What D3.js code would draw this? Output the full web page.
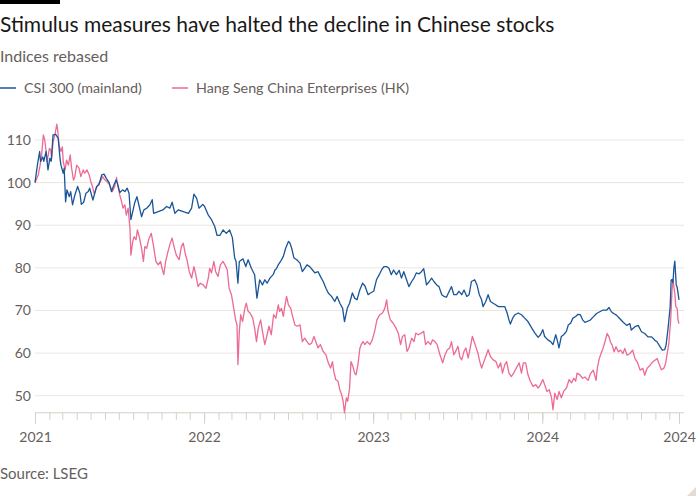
<!DOCTYPE html>
<html>
<head>
<meta charset="utf-8">
<script src="https://cdn.jsdelivr.net/npm/d3@7"></script>
<style>
  html, body { margin: 0; padding: 0; background: #ffffff; }
  svg { display: block; }
  text { font-family: Lato, "Open Sans", "Noto Sans", sans-serif; }
</style>
</head>
<body>
<svg id="chart" width="700" height="500"></svg>
<script>
// ---------------- DATA ----------------
const seriesNames = ["CSI 300 (mainland)", "Hang Seng China Enterprises (HK)"];

const csiDates = [
"2021-01-01","2021-01-06","2021-01-11","2021-01-13","2021-01-18","2021-01-20","2021-01-25","2021-01-29","2021-02-02","2021-02-05",
"2021-02-09","2021-02-15","2021-02-20","2021-02-24","2021-02-26","2021-03-03","2021-03-05","2021-03-08","2021-03-11","2021-03-16",
"2021-03-19","2021-03-23","2021-03-28","2021-04-03","2021-04-08","2021-04-11","2021-04-16","2021-04-21","2021-04-26","2021-04-29",
"2021-05-03","2021-05-06","2021-05-10","2021-05-14","2021-05-19","2021-05-25","2021-05-30","2021-06-04","2021-06-10","2021-06-15",
"2021-06-19","2021-06-25","2021-06-28","2021-07-03","2021-07-09","2021-07-14","2021-07-19","2021-07-23","2021-07-27","2021-07-31",
"2021-08-04","2021-08-09","2021-08-14","2021-08-19","2021-08-24","2021-08-30","2021-09-06","2021-09-11","2021-09-14","2021-09-24",
"2021-10-04","2021-10-12","2021-10-19","2021-10-24","2021-10-30","2021-11-06","2021-11-17","2021-11-28","2021-12-05","2021-12-10",
"2021-12-16","2021-12-21","2021-12-29","2022-01-02","2022-01-10","2022-01-17","2022-01-24","2022-01-29","2022-02-04","2022-02-11",
"2022-02-18","2022-02-25","2022-03-03","2022-03-08","2022-03-11","2022-03-15","2022-03-18","2022-03-26","2022-04-01","2022-04-06",
"2022-04-13","2022-04-20","2022-04-25","2022-05-01","2022-05-07","2022-05-12","2022-05-17","2022-05-23","2022-05-30","2022-06-03",
"2022-06-06","2022-06-10","2022-06-15","2022-06-21","2022-06-26","2022-07-02","2022-07-05","2022-07-09","2022-07-14","2022-07-20",
"2022-07-27","2022-08-01","2022-08-06","2022-08-11","2022-08-17","2022-08-23","2022-08-28","2022-09-04","2022-09-09","2022-09-15",
"2022-09-21","2022-09-26","2022-10-03","2022-10-10","2022-10-15","2022-10-21","2022-10-27","2022-10-31","2022-11-06","2022-11-11",
"2022-11-17","2022-11-22","2022-11-27","2022-12-03","2022-12-09","2022-12-14","2022-12-21","2022-12-26","2023-01-02","2023-01-08",
"2023-01-14","2023-01-19","2023-01-24","2023-01-30","2023-02-04","2023-02-09","2023-02-14","2023-02-20","2023-02-26","2023-03-03",
"2023-03-08","2023-03-14","2023-03-19","2023-03-25","2023-03-30","2023-04-04","2023-04-10","2023-04-15","2023-04-20","2023-04-26",
"2023-05-02","2023-05-07","2023-05-12","2023-05-18","2023-05-23","2023-05-29","2023-06-03","2023-06-08","2023-06-14","2023-06-19",
"2023-06-24","2023-06-30","2023-07-05","2023-07-11","2023-07-16","2023-07-22","2023-07-27","2023-08-01","2023-08-08","2023-08-13",
"2023-08-18","2023-08-23","2023-08-26","2023-09-01","2023-09-06","2023-09-11","2023-09-17","2023-09-23","2023-09-28","2023-10-05",
"2023-10-12","2023-10-17","2023-10-21","2023-10-24","2023-10-29","2023-11-03","2023-11-10","2023-11-17","2023-11-24","2023-12-01",
"2023-12-09","2023-12-16","2023-12-23","2023-12-28","2024-01-02","2024-01-06","2024-01-13","2024-01-19","2024-01-24","2024-01-30",
"2024-02-02","2024-02-06","2024-02-11","2024-02-16","2024-02-22","2024-02-26","2024-03-02","2024-03-07","2024-03-13","2024-03-18",
"2024-03-23","2024-03-28","2024-04-02","2024-04-13","2024-04-20","2024-04-27","2024-05-04","2024-05-11","2024-05-19","2024-05-24",
"2024-05-29","2024-06-03","2024-06-09","2024-06-16","2024-06-23","2024-07-01","2024-07-08","2024-07-11","2024-07-19","2024-07-26",
"2024-08-02","2024-08-09","2024-08-16","2024-08-24","2024-08-31","2024-09-05","2024-09-11","2024-09-16","2024-09-21","2024-09-24",
"2024-09-28","2024-10-03","2024-10-05","2024-10-07","2024-10-09","2024-10-11","2024-10-13","2024-10-16","2024-10-18","2024-10-20",
"2024-10-22"];
const csiValues = [
100,104,107.3,105,106,105,107.3,103,105.7,105,
111.2,111.3,110.4,105.7,104.1,102.2,103.4,95.5,98.3,96.7,
97.9,94.8,97.1,99.1,97.5,94.9,95.4,97.5,97.9,98.7,
97.1,95.9,97.5,99.1,99.5,101.8,102,101,100,97.9,
99.1,100.6,99.8,97.7,98.3,97.9,98.7,97.5,91.3,93.2,
95.2,96.7,94.4,92,93.6,94,94.8,96,92.8,93.2,
93.6,94.4,94,95.4,92.8,93.6,93.2,92.8,94,97.3,
96.3,94,94.9,94.4,92.4,91.3,89.7,87.6,87.6,88.9,
88.1,88.9,87.1,82.3,81.5,76.4,81.5,82.1,80.3,81.9,
79.9,78.4,72.9,77.2,76,77.2,76.4,77.6,78.4,79.5,
79.8,80.7,81.5,82.7,84.6,86.2,85.9,84.6,82.3,81.9,
81.1,79.1,79.9,80.7,80.3,79.5,78.8,79.1,78,76.8,
75.2,74.1,73.3,72.1,73.3,71.7,70.5,67.4,70.5,71.7,
74.1,72.9,72.5,74.8,76.4,75.8,73.7,74.1,74.5,77.2,
78.4,79.5,80.3,80.3,79.9,78.4,79.5,78.4,79.4,77.6,
79.1,77.2,75.6,76.8,77.6,78.8,78.6,79.1,79.8,76,
76.8,77.6,76.8,76,75.6,73.7,73.3,73.1,74.5,75.6,
73.7,73.7,74.5,73.7,74.8,73.3,73.7,76.8,77.2,76,
73.7,72.5,70.9,72.1,73.7,72.1,71.7,71.3,70.9,70.9,
70.9,69.4,67.8,66.8,68.2,69,69.4,69,68.2,67.4,
65.9,64.7,63.7,64.3,65.5,63.9,63.1,62.7,62,64.3,
63.1,61.2,63.9,64.3,65.1,66.6,67,68.2,68.6,69.1,
69,67.8,67.2,67.7,68.5,69.3,69.7,70.1,70.1,70.7,
69.7,69.3,68.9,68.1,67.3,66.5,66.9,65.4,66.2,66.5,
65,64.6,63.8,63.8,63,62.6,61.5,60.7,60.8,61.8,
65.4,70.9,77.1,77.3,76.5,80,81.6,76,75.5,74,
72.5];

const hsDates = [
"2021-01-01","2021-01-05","2021-01-08","2021-01-12","2021-01-15","2021-01-19","2021-01-22","2021-01-25","2021-01-27","2021-02-01",
"2021-02-04","2021-02-06","2021-02-09","2021-02-13","2021-02-17","2021-02-19","2021-02-22","2021-02-26","2021-03-01","2021-03-03",
"2021-03-07","2021-03-10","2021-03-14","2021-03-18","2021-03-21","2021-03-25","2021-03-28","2021-04-01","2021-04-06","2021-04-10",
"2021-04-15","2021-04-18","2021-04-23","2021-04-28","2021-05-01","2021-05-05","2021-05-09","2021-05-12","2021-05-17","2021-05-22",
"2021-05-27","2021-06-01","2021-06-06","2021-06-11","2021-06-17","2021-06-22","2021-06-26","2021-06-29","2021-07-03","2021-07-07",
"2021-07-10","2021-07-14","2021-07-17","2021-07-21","2021-07-25","2021-07-27","2021-07-31","2021-08-03","2021-08-07","2021-08-10",
"2021-08-14","2021-08-19","2021-08-23","2021-08-26","2021-08-30","2021-09-04","2021-09-09","2021-09-14","2021-09-19","2021-09-24",
"2021-09-29","2021-10-03","2021-10-06","2021-10-10","2021-10-15","2021-10-20","2021-10-24","2021-10-28","2021-11-02","2021-11-08",
"2021-11-13","2021-11-17","2021-11-22","2021-11-25","2021-11-30","2021-12-05","2021-12-10","2021-12-14","2021-12-19","2021-12-24",
"2021-12-30","2022-01-05","2022-01-10","2022-01-13","2022-01-17","2022-01-22","2022-01-26","2022-01-31","2022-02-05","2022-02-11",
"2022-02-17","2022-02-20","2022-02-24","2022-03-01","2022-03-06","2022-03-10","2022-03-13","2022-03-15","2022-03-18","2022-03-21",
"2022-03-25","2022-03-30","2022-04-02","2022-04-06","2022-04-10","2022-04-16","2022-04-20","2022-04-24","2022-04-28","2022-05-03",
"2022-05-07","2022-05-12","2022-05-17","2022-05-21","2022-05-26","2022-05-31","2022-06-05","2022-06-10","2022-06-13","2022-06-17",
"2022-06-21","2022-06-24","2022-06-28","2022-07-02","2022-07-07","2022-07-11","2022-07-16","2022-07-21","2022-07-27","2022-08-01",
"2022-08-06","2022-08-11","2022-08-16","2022-08-21","2022-08-26","2022-08-30","2022-09-04","2022-09-09","2022-09-15","2022-09-21",
"2022-09-26","2022-10-01","2022-10-05","2022-10-08","2022-10-12","2022-10-17","2022-10-21","2022-10-25","2022-10-28","2022-10-31",
"2022-11-04","2022-11-07","2022-11-11","2022-11-14","2022-11-18","2022-11-22","2022-11-25","2022-11-29","2022-12-03","2022-12-06",
"2022-12-10","2022-12-14","2022-12-19","2022-12-25","2022-12-30","2023-01-04","2023-01-09","2023-01-15","2023-01-21","2023-01-26",
"2023-01-30","2023-02-02","2023-02-07","2023-02-13","2023-02-19","2023-02-24","2023-03-01","2023-03-05","2023-03-10","2023-03-15",
"2023-03-19","2023-03-25","2023-03-30","2023-04-03","2023-04-08","2023-04-15","2023-04-20","2023-04-24","2023-04-29","2023-05-05",
"2023-05-09","2023-05-14","2023-05-19","2023-05-25","2023-05-31","2023-06-05","2023-06-10","2023-06-15","2023-06-19","2023-06-24",
"2023-06-28","2023-07-03","2023-07-07","2023-07-11","2023-07-16","2023-07-20","2023-07-25","2023-07-30","2023-08-03","2023-08-08",
"2023-08-15","2023-08-19","2023-08-23","2023-08-28","2023-09-01","2023-09-06","2023-09-11","2023-09-17","2023-09-23","2023-09-28",
"2023-10-03","2023-10-07","2023-10-12","2023-10-16","2023-10-21","2023-10-26","2023-10-31","2023-11-06","2023-11-12","2023-11-17",
"2023-11-21","2023-11-26","2023-12-01","2023-12-06","2023-12-12","2023-12-18","2023-12-23","2023-12-28","2024-01-02","2024-01-06",
"2024-01-11","2024-01-16","2024-01-21","2024-01-24","2024-01-28","2024-02-02","2024-02-06","2024-02-11","2024-02-16","2024-02-22",
"2024-02-28","2024-03-04","2024-03-09","2024-03-13","2024-03-16","2024-03-22","2024-03-28","2024-04-02","2024-04-09","2024-04-14",
"2024-04-20","2024-04-26","2024-04-29","2024-05-03","2024-05-08","2024-05-11","2024-05-15","2024-05-20","2024-05-24","2024-05-27",
"2024-05-31","2024-06-04","2024-06-08","2024-06-13","2024-06-18","2024-06-23","2024-06-27","2024-07-02","2024-07-08","2024-07-14",
"2024-07-19","2024-07-24","2024-07-30","2024-08-05","2024-08-09","2024-08-14","2024-08-20","2024-08-26","2024-08-31","2024-09-05",
"2024-09-09","2024-09-14","2024-09-19","2024-09-23","2024-09-26","2024-09-30","2024-10-04","2024-10-07","2024-10-09","2024-10-13",
"2024-10-15","2024-10-18","2024-10-20","2024-10-22"];
const hsValues = [
100,101,101.8,104.1,106.1,111.2,110,107.3,104.9,108,
107.7,105.7,109.6,111.2,113.7,112.3,108.8,107.3,108.4,104.9,
103,105.3,104.1,106.5,103.4,100.6,101.4,104.1,103.4,101.4,
103,102.2,103,101.8,100.4,99.1,97.3,98.4,99.5,100.2,
101.4,100.6,100.2,99.5,97.9,99.1,101.2,99.1,97.1,95.5,
94,94.8,92.4,94,89.3,83,86.2,87.3,86.6,88.9,
87.3,84.6,81.5,85,84.6,86.9,88.1,85,81.5,80.7,
81.5,79.5,78.4,81.5,83.8,85.8,87,85,83,81.9,
85,85.8,83,81.9,79.1,77.6,80.3,78.4,75.6,76.4,
76,75.2,77.6,79.9,78.8,81.5,79.1,78,80.7,81.5,
80.3,79.5,75.2,73.7,70.5,67.8,66.6,57.3,65.1,69,
67.4,70.5,71.7,69.8,69.4,68.2,65.9,62.7,65.9,67.8,
65.1,62,64.3,66.3,64.3,69,68.2,71.3,69.8,70.5,
68.6,70.9,73.3,71.3,70.5,68.6,66.6,66.3,66.6,62.7,
63.5,62.7,62,62.3,63.9,62.7,61.2,62,60.4,59.6,
57.7,56.5,58,55.7,53.8,53.4,51.4,50.2,48.7,46,
49.5,48.7,51.8,58,56.9,55.3,54.9,57.3,61,62,
62.7,62,62.7,62,63.1,65.1,67.8,69,69.4,70.5,
72.5,69.8,67.8,67,65.9,64.7,62,63.9,64.3,60.4,
61.2,63.5,62.7,64.7,64.3,64.7,65.1,62,62.7,62,
63.1,62.7,62,59.6,57.7,59.6,60.8,61.2,62.7,59.6,
60.4,61.6,59.1,58.4,60.4,61.2,58.8,61.6,63.9,62.3,
60,58,56.5,58,59.2,60.8,59.2,58.4,58,56.5,
57.7,55.3,57.3,58,55.3,54.5,55.3,56.5,57.7,55.3,
57.7,57.7,54.9,53.4,52.2,52.6,51.8,52.6,53.8,52.6,
51,51.4,49.5,46.7,50.6,49.1,51,49.5,51,51.8,
53.8,53,54.1,53.4,55.3,54.9,54.1,54.4,53.6,55.2,
56,53.6,56.7,58.7,60.3,61.1,62.6,64.6,63.8,62.6,
61.8,60.3,61.5,60.3,60.7,59.9,61.1,59.5,59.9,60.7,
58.7,57.9,56,56.4,54.8,56.4,57.1,57.9,58.3,58.7,
57.5,56.1,56.4,57.5,59.5,62.2,67.7,74.8,77.1,74,
70.9,70.5,67.7,66.9];

const yTickValues = [50, 60, 70, 80, 90, 100, 110];
const xTickLabels = ["2021", "2022", "2023", "2024", "2024"];
const xTickDates = ["2021-01-01", "2022-01-01", "2023-01-01", "2024-01-01", "2024-10-22"];
const xDomain = ["2021-01-01", "2024-10-22"];
const yDomain = [46, 115];

// ---------------- DRAW ----------------
const parse = d3.timeParse("%Y-%m-%d");
const svg = d3.select("#chart");

const COL = { blue: "#1a5598", pink: "#ec6a94", text: "#66605c", title: "#1a1817", grid: "#ece5dd", tick: "#d6cfc7" };

const x = d3.scaleTime().domain(xDomain.map(parse)).range([35, 679]);
const y = d3.scaleLinear().domain(yDomain).range([412.75, 118.7]);
const gridRight = 684;

// top black bar
svg.append("rect").attr("x", 0).attr("y", 0).attr("width", 60).attr("height", 4).attr("fill", "#000");

// title, subtitle
svg.append("text").attr("x", 0).attr("y", 32).attr("font-size", 21).attr("fill", COL.title)
  .text("Stimulus measures have halted the decline in Chinese stocks");
svg.append("text").attr("x", 0).attr("y", 62).attr("font-size", 16).attr("fill", COL.text)
  .text("Indices rebased");

// legend
const legendX = [0, 172];
const legendCols = [COL.blue, COL.pink];
seriesNames.forEach((n, i) => {
  svg.append("line").attr("x1", legendX[i]).attr("x2", legendX[i] + 16).attr("y1", 88).attr("y2", 88)
    .attr("stroke", legendCols[i]).attr("stroke-width", 1.5);
  svg.append("text").attr("x", legendX[i] + 24).attr("y", 93).attr("font-size", 14.3).attr("fill", COL.text).text(n);
});

// gridlines + y labels
const yAxis = d3.axisLeft(y).tickValues(yTickValues).tickSize(0).tickPadding(4).tickFormat(d3.format("d"));
const gy = svg.append("g").attr("transform", "translate(35,0)").call(yAxis);
gy.select(".domain").remove();
gy.selectAll(".tick text").attr("font-size", 14).attr("fill", COL.text).attr("font-family", "Lato, 'Open Sans', sans-serif");
svg.append("g").selectAll("line").data(yTickValues).join("line")
  .attr("x1", 35).attr("x2", gridRight).attr("y1", d => y(d)).attr("y2", d => y(d))
  .attr("stroke", COL.grid).attr("stroke-width", 1);

// x axis baseline
svg.append("line").attr("x1", 35).attr("x2", gridRight).attr("y1", y(yDomain[0])).attr("y2", y(yDomain[0]))
  .attr("stroke", COL.tick).attr("stroke-width", 1);

// minor monthly ticks
const minorAxis = d3.axisBottom(x).ticks(d3.timeMonth.every(1)).tickSize(7).tickFormat("");
const gMinor = svg.append("g").attr("transform", `translate(0,${y(yDomain[0])})`).call(minorAxis);
gMinor.select(".domain").remove();
gMinor.selectAll(".tick line").attr("stroke", COL.tick);

// major ticks with year labels
const majorAxis = d3.axisBottom(x).tickValues(xTickDates.map(parse)).tickSize(11).tickPadding(8)
  .tickFormat((d, i) => xTickLabels[i]);
const gMajor = svg.append("g").attr("transform", `translate(0,${y(yDomain[0])})`).call(majorAxis);
gMajor.select(".domain").remove();
gMajor.selectAll(".tick line").attr("stroke", COL.tick);
gMajor.selectAll(".tick text").attr("font-size", 14).attr("fill", COL.text).attr("font-family", "Lato, 'Open Sans', sans-serif");

// lines
const line = d3.line().x(d => x(d[0])).y(d => y(d[1]));
const hsData = hsDates.map((d, i) => [parse(d), hsValues[i]]);
const csiData = csiDates.map((d, i) => [parse(d), csiValues[i]]);
svg.append("path").datum(hsData).attr("d", line).attr("fill", "none").attr("stroke", COL.pink)
  .attr("stroke-width", 1.3).attr("stroke-linejoin", "round");
svg.append("path").datum(csiData).attr("d", line).attr("fill", "none").attr("stroke", COL.blue)
  .attr("stroke-width", 1.3).attr("stroke-linejoin", "round");

// source
svg.append("text").attr("x", 0).attr("y", 479).attr("font-size", 15).attr("fill", COL.text).text("Source: LSEG");

// corner mark
svg.append("path").attr("d", "M696,487 L696,496 L687,496 Z").attr("fill", "#e4dcd3");
</script>
</body>
</html>
